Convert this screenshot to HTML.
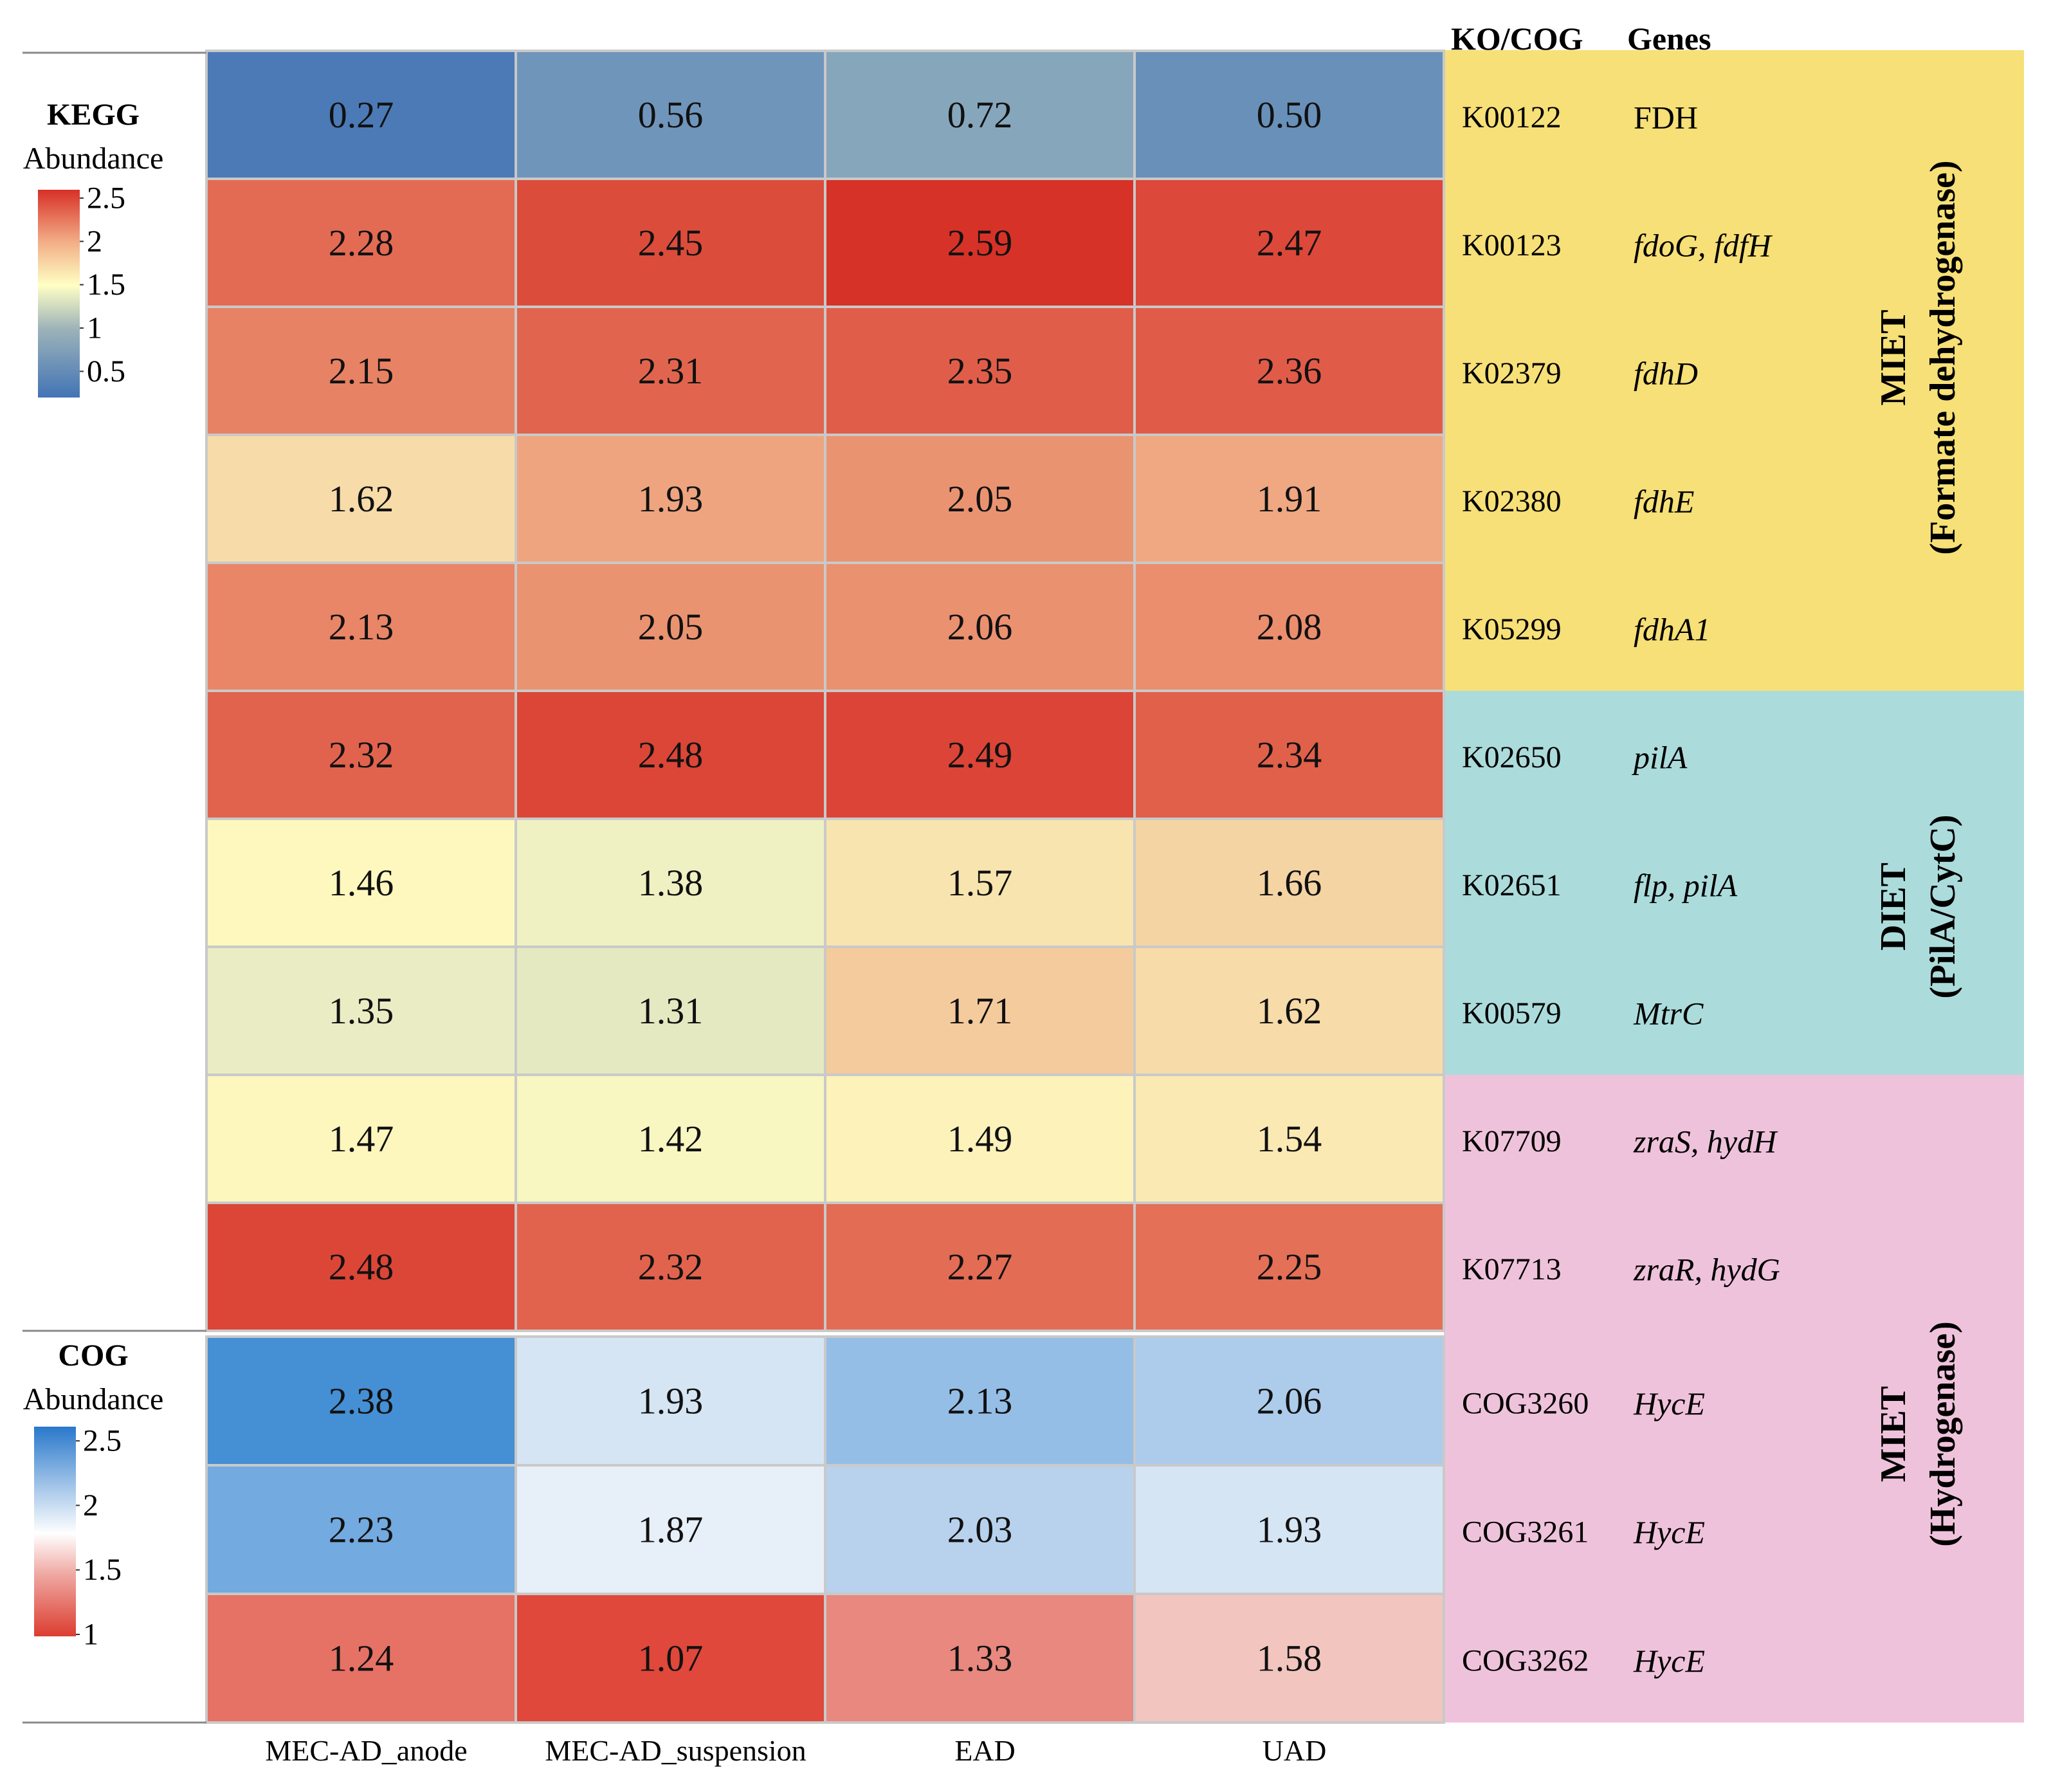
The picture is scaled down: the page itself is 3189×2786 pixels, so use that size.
<!DOCTYPE html>
<html><head><meta charset="utf-8"><style>
html,body{margin:0;padding:0;background:#fff;}
svg{display:block;}
svg text{font-family:"Liberation Serif","DejaVu Serif",serif;}
</style></head><body>
<svg id="chart" width="3189" height="2786" viewBox="0 0 3189 2786" xmlns="http://www.w3.org/2000/svg" font-family="Liberation Serif, serif">
<defs>
<linearGradient id="keggGrad" x1="0" y1="1" x2="0" y2="0">
<stop offset="0" stop-color="#4274b5"/><stop offset="0.33" stop-color="#9db3b9"/><stop offset="0.54" stop-color="#ffffc4"/><stop offset="0.75" stop-color="#f2ad86"/><stop offset="1" stop-color="#d73027"/>
</linearGradient>
<linearGradient id="cogGrad" x1="0" y1="1" x2="0" y2="0">
<stop offset="0" stop-color="#dc3d30"/><stop offset="0.3" stop-color="#efaaa4"/><stop offset="0.49" stop-color="#ffffff"/><stop offset="0.7" stop-color="#a9c9ea"/><stop offset="1" stop-color="#2a78cc"/>
</linearGradient>
</defs>
<g id="bands"></g>
<g id="cells"></g>
<g id="annot"></g>
</svg>
<script>
const columns = ["MEC-AD_anode","MEC-AD_suspension","EAD","UAD"];
const koIds = ["K00122","K00123","K02379","K02380","K05299","K02650","K02651","K00579","K07709","K07713","COG3260","COG3261","COG3262"];
const genes = ["FDH","fdoG, fdfH","fdhD","fdhE","fdhA1","pilA","flp, pilA","MtrC","zraS, hydH","zraR, hydG","HycE","HycE","HycE"];
const rowValues = [
 [0.27,0.56,0.72,0.50],
 [2.28,2.45,2.59,2.47],
 [2.15,2.31,2.35,2.36],
 [1.62,1.93,2.05,1.91],
 [2.13,2.05,2.06,2.08],
 [2.32,2.48,2.49,2.34],
 [1.46,1.38,1.57,1.66],
 [1.35,1.31,1.71,1.62],
 [1.47,1.42,1.49,1.54],
 [2.48,2.32,2.27,2.25],
 [2.38,1.93,2.13,2.06],
 [2.23,1.87,2.03,1.93],
 [1.24,1.07,1.33,1.58]
];
const keggTicks = [2.5,2,1.5,1,0.5];
const cogTicks = [2.5,2,1.5,1];
const groupLabels = [["MIET","(Formate dehydrogenase)"],["DIET","(PilA/CytC)"],["MIET","(Hydrogenase)"]];
const groupRows = [[0,5],[5,8],[8,13]];

const NS="http://www.w3.org/2000/svg";
const FF='"Liberation Serif", "DejaVu Serif", serif';
function mk(tag,attrs,parent,text){const e=document.createElementNS(NS,tag);for(const k in attrs)e.setAttribute(k,attrs[k]);if(tag==='text')e.setAttribute('font-family',FF);if(text!==undefined)e.textContent=text;parent.appendChild(e);return e;}
function hex2rgb(h){return [1,3,5].map(i=>parseInt(h.substr(i,2),16));}
function interp(stops,v){
 if(v<=stops[0][0])return stops[0][1];
 for(let i=1;i<stops.length;i++){if(v<=stops[i][0]){const a=stops[i-1],b=stops[i];const t=(v-a[0])/(b[0]-a[0]);const c1=hex2rgb(a[1]),c2=hex2rgb(b[1]);return "rgb("+c1.map((c,j)=>Math.round(c+(c2[j]-c)*t)).join(",")+")";}}
 return stops[stops.length-1][1];}
const keggStops=[[0.2,"#4274b5"],[0.6,"#7599ba"],[0.8,"#92aebb"],[1.1,"#c4d2b8"],[1.35,"#eaedc3"],[1.45,"#fefac0"],[1.55,"#f9e7b2"],[1.7,"#f4cd9d"],[1.93,"#eea57f"],[2.1,"#e98b6b"],[2.35,"#e05e49"],[2.6,"#d73027"]];
const cogStops=[[1.0,"#dc3d30"],[1.1,"#e04c3e"],[1.25,"#e67468"],[1.35,"#e98d84"],[1.6,"#f3cac4"],[1.8,"#fbfbfd"],[1.9,"#dfeaf6"],[2.0,"#c2d8ef"],[2.13,"#95bee6"],[2.25,"#6ca6dd"],[2.4,"#3f8bd4"],[2.6,"#2a78cc"]];

const X0=321,CW=481,Y0=79,RH=199,COGY=2078;
const xCol=i=>X0+i*CW;
const yRow=r=>r<10?Y0+r*RH:COGY+(r-10)*200;
const rowH=r=>r<10?RH:200;
const cells=document.getElementById('cells'),bands=document.getElementById('bands'),ann=document.getElementById('annot');

const bandColors=["#f6e077","#acdbdb","#efc2db"];
groupRows.forEach((g,i)=>{
 const y1=i==0?78:yRow(g[0]);const y2=i==2?2678:yRow(g[1]);
 const b=mk('rect',{x:2245,y:y1,width:902,height:y2-y1,fill:bandColors[i]},bands);
 
 
 const cy=(y1+y2)/2-(i==0?20:(i==1?-37:-55));
 const t1=mk('text',{x:2944,y:cy,'font-size':56,'font-weight':'bold','text-anchor':'middle','dominant-baseline':'central',transform:`rotate(-90 2944 ${cy})`},ann,groupLabels[i][0]);
 
 
 const t2=mk('text',{x:3021,y:cy,'font-size':56,'font-weight':'bold','text-anchor':'middle','dominant-baseline':'central',transform:`rotate(-90 3021 ${cy})`},ann,groupLabels[i][1]);
 
 
});

rowValues.forEach((vals,r)=>{
 vals.forEach((v,c)=>{
  const col=r<10?interp(keggStops,v):interp(cogStops,v);
  const rc=mk('rect',{x:xCol(c),y:yRow(r),width:CW,height:rowH(r),fill:col,stroke:'#c9c9c9','stroke-width':4},cells);
  
  
  const t=mk('text',{x:xCol(c)+CW/2,y:yRow(r)+rowH(r)/2,'font-size':58,'text-anchor':'middle','dominant-baseline':'central',fill:'#111'},cells,v.toFixed(2));
  
  
 });
 const k=mk('text',{x:2273,y:yRow(r)+rowH(r)/2+4,'font-size':48,'dominant-baseline':'central'},ann,koIds[r]);
 
 
 const g=mk('text',{x:2540,y:yRow(r)+rowH(r)/2+4,'font-size':50,'dominant-baseline':'central','font-style':genes[r]=="FDH"?'normal':'italic'},ann,genes[r]);
 
 
});

const h1=mk('text',{x:2256,y:77,'font-size':50,'font-weight':'bold'},ann,"KO/COG");


const h2=mk('text',{x:2530,y:77,'font-size':50,'font-weight':'bold'},ann,"Genes");



columns.forEach((c,i)=>{
 const t=mk('text',{x:xCol(i)+CW/2+8,y:2737,'font-size':46,'text-anchor':'middle'},ann,c);
 
 
});

[[82],[2069],[2678]].forEach(l=>{
 const ln=mk('line',{x1:35,x2:321,y1:l[0],y2:l[0],stroke:'#8a8a8a','stroke-width':3},ann);
 
 
});

function legend(title,top,barX,barTop,barBot,ticks,tickY,grad,name){
 const t=mk('text',{x:145,y:top,'font-size':48,'font-weight':'bold','text-anchor':'middle'},ann,title);
 
 
 const a=mk('text',{x:145,y:top+68,'font-size':48,'text-anchor':'middle'},ann,"Abundance");
 
 
 const r=mk('rect',{x:barX,y:barTop,width:65,height:barBot-barTop,fill:'url(#'+grad+')'},ann);
 
 
 ticks.forEach(v=>{
  const y=tickY(v);
  const tl=mk('line',{x1:barX+65,x2:barX+71,y1:y,y2:y,stroke:'#333','stroke-width':2},ann);
  
  
  const tx=mk('text',{x:barX+76,y:y,'font-size':48,'dominant-baseline':'central'},ann,String(v));
  
  
 });
}
legend("KEGG",194,59,295,618,keggTicks,v=>510-(v-1)*134.7,'keggGrad','kegg');
legend("COG",2123,53,2218,2544,cogTicks,v=>2541-(v-1)*200.6,'cogGrad','cog');
</script>
</body></html>
